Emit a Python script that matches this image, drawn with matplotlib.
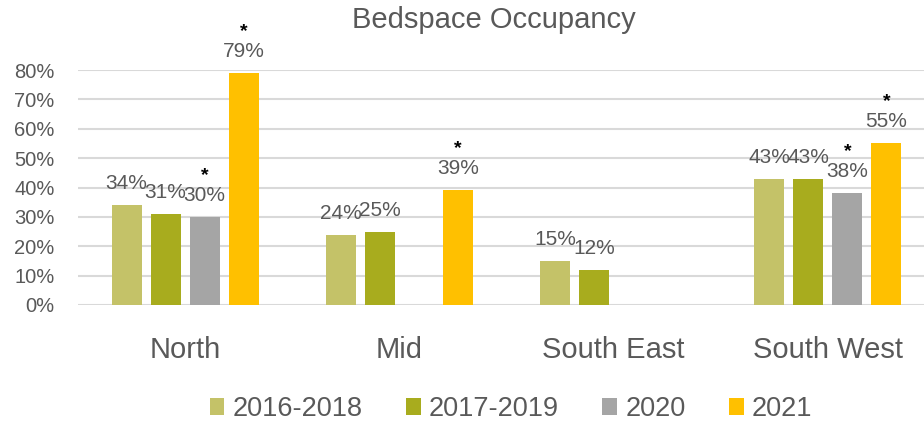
import numpy as np
import matplotlib
matplotlib.use('Agg')
import matplotlib.pyplot as plt
from matplotlib.patches import Patch

plt.rcParams['font.family'] = ['Liberation Sans', 'DejaVu Sans']

categories = ['North', 'Mid', 'South East', 'South West']
series_names = ['2016-2018', '2017-2019', '2020', '2021']
v_2016_2018 = [34, 24, 15, 43]
v_2017_2019 = [31, 25, 12, 43]
v_2020 = [30, None, None, 38]
v_2021 = [79, 39, None, 55]
# (category index, series index) of bars marked with an asterisk
starred = [(0, 2), (0, 3), (1, 3), (3, 2), (3, 3)]

colors = ['#C4C268', '#A8AC1E', '#A5A5A5', '#FFC000']
txt = '#595959'

values = [v_2016_2018, v_2017_2019, v_2020, v_2021]

fig = plt.figure(figsize=(9.24, 4.25), dpi=100)
ax = fig.add_axes([78 / 924, 1 - 305 / 425, 857 / 924, 235 / 425])

x = np.arange(len(categories))
width = 0.14
pitch = 0.182

for s, vals in enumerate(values):
    off = (s - 1.5) * pitch
    for i, v in enumerate(vals):
        if v is None:
            continue
        ax.bar(x[i] + off, v / 100, width, color=colors[s], zorder=3)
        ax.annotate('%d%%' % v, (x[i] + off, v / 100), xytext=(0, 11.5),
                    textcoords='offset points', ha='center', va='baseline',
                    fontsize=15, color=txt, annotation_clip=False)
        if (i, s) in starred:
            ax.annotate('*', (x[i] + off, v / 100), xytext=(0, 30),
                        textcoords='offset points', ha='center', va='center',
                        fontsize=14, color='black', fontweight='bold',
                        annotation_clip=False)

ax.set_xlim(-0.5, 3.5)
ax.set_ylim(0, 0.8)
ax.set_yticks(np.arange(0, 0.81, 0.1))
ax.set_yticklabels(['%d%%' % t for t in range(0, 81, 10)])
ax.set_xticks(x)
ax.set_xticklabels(categories)
ax.tick_params(axis='y', length=0, pad=17, labelsize=14.5, labelcolor=txt)
ax.tick_params(axis='x', length=0, pad=22, labelsize=21, labelcolor=txt)
ax.grid(axis='y', color='#D9D9D9', linewidth=1.5, zorder=0)
for sp in ax.spines.values():
    sp.set_visible(False)

fig.text(0.534, 1 - 20 / 425, 'Bedspace Occupancy', ha='center', va='center',
         fontsize=21, color=txt)

handles = [Patch(facecolor=c, edgecolor='none') for c in colors]
fig.legend(handles, series_names, loc='center', bbox_to_anchor=(0.553, 1 - 409 / 425),
           ncol=4, frameon=False, fontsize=19.5, labelcolor=txt,
           handlelength=0.55, handleheight=0.55, handletextpad=0.3, columnspacing=1.6)

fig.savefig('out.png', dpi=100)
